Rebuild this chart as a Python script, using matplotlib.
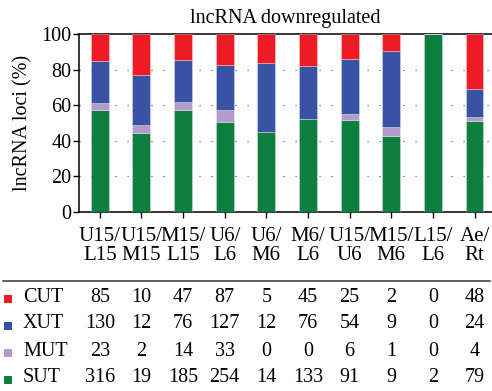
import matplotlib
matplotlib.use("Agg")
import matplotlib.pyplot as plt
import numpy as np
from matplotlib.transforms import blended_transform_factory
from matplotlib.patches import Rectangle
from matplotlib.lines import Line2D

plt.rcParams['font.family'] = ['Liberation Serif', 'DejaVu Serif']

categories = ["U15/\nL15", "U15/\nM15", "M15/\nL15", "U6/\nL6", "U6/\nM6",
              "M6/\nL6", "U15/\nU6", "M15/\nM6", "L15/\nL6", "Ae/\nRt"]
series_names = ["CUT", "XUT", "MUT", "SUT"]
CUT = [85, 10, 47, 87, 5, 45, 25, 2, 0, 48]
XUT = [130, 12, 76, 127, 12, 76, 54, 9, 0, 24]
MUT = [23, 2, 14, 33, 0, 0, 6, 1, 0, 4]
SUT = [316, 19, 185, 254, 14, 133, 91, 9, 2, 79]
colors = {"CUT": "#ED1C24", "XUT": "#3953A4", "MUT": "#B49BCB", "SUT": "#0E7F3F"}

counts = {"CUT": np.array(CUT), "XUT": np.array(XUT), "MUT": np.array(MUT), "SUT": np.array(SUT)}
total = sum(counts.values())
pct = {k: v / total * 100 for k, v in counts.items()}

fig = plt.figure(figsize=(4.92, 3.91), dpi=100)
ax = fig.add_axes([79/492, 1 - 212/391, 1 - 79/492, (212 - 34)/391])

x = np.arange(len(categories))
bottom = np.zeros(len(categories))
for name in ["SUT", "MUT", "XUT", "CUT"]:
    ax.bar(x, pct[name], width=0.43, bottom=bottom, color=colors[name],
           edgecolor=(1, 1, 1, 0.35), linewidth=0.6, zorder=3)
    bottom += pct[name]

ax.set_xlim(-0.5, 9.42)
ax.set_ylim(0, 100)
ax.set_yticks([0, 20, 40, 60, 80, 100])
ax.set_xticks(x)
ax.set_xticklabels(categories, fontsize=15, linespacing=1.0)
ax.tick_params(axis='y', labelsize=14.5, direction='out', length=4.5, width=1, pad=1)
ax.tick_params(axis='x', direction='out', length=4, width=1, pad=7)
for yv in [20, 40, 60, 80]:
    ax.axhline(yv, color='#444444', linewidth=0.8, linestyle=(0, (1, 9.8)), zorder=1)
ax.spines['right'].set_visible(False)
for s in ['left', 'bottom', 'top']:
    ax.spines[s].set_linewidth(1.1)
ax.set_ylabel("lncRNA loci (%)", fontsize=14.5, labelpad=6)
ax.set_title("lncRNA downregulated", fontsize=14.5, pad=8)

# table below
fig.add_artist(Line2D([3/492, 490/492], [1 - 281/391, 1 - 281/391],
                      color='#333333', linewidth=1.1, transform=fig.transFigure))
trans = blended_transform_factory(ax.transData, fig.transFigure)
row_y = [297, 324, 351, 378]
for name, yy in zip(series_names, row_y):
    yf = 1 - yy / 391
    fig.add_artist(Rectangle((4/492, 1 - (yy + 6)/391), 8/492, 8/391,
                             facecolor=colors[name], edgecolor='none',
                             transform=fig.transFigure))
    fig.text(23/492, yf, name, fontsize=14.5, va='center', ha='left')
    for xi, v in zip(x, counts[name]):
        fig.text(xi, yf, str(v), fontsize=14.5, va='center', ha='center',
                 transform=trans)

fig.savefig("out.png", dpi=100)
